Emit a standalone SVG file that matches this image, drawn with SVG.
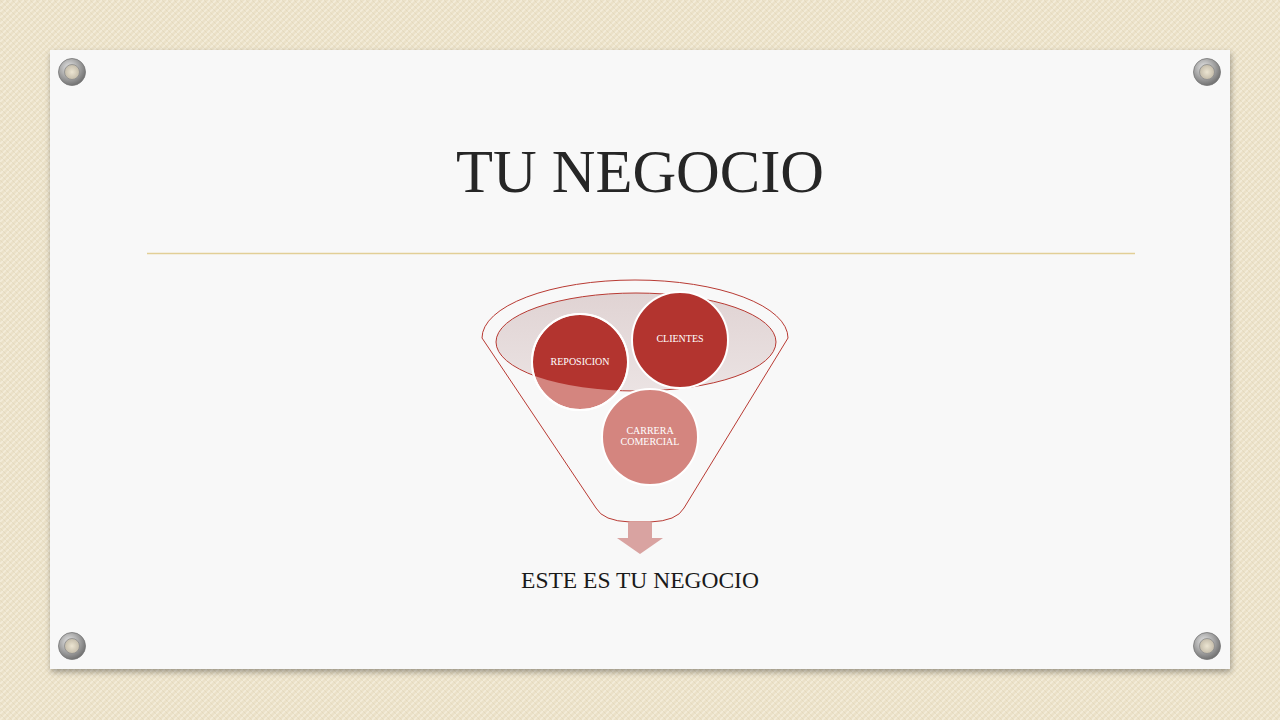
<svg xmlns="http://www.w3.org/2000/svg" width="1280" height="720" viewBox="0 0 1280 720">
  <defs>
    <pattern id="canvas" x="0" y="0" width="6" height="6" patternUnits="userSpaceOnUse">
      <rect width="6" height="6" fill="#ebe1c8"/>
      <path d="M0,6 L6,0 M-1.5,1.5 L1.5,-1.5 M4.5,7.5 L7.5,4.5" stroke="#f3ecd9" stroke-width="1.6"/>
      <path d="M0,0 L6,6" stroke="#dccfb0" stroke-width="0.6" stroke-opacity="0.7"/>
    </pattern>
    <radialGradient id="grom" cx="0.4" cy="0.35" r="0.7">
      <stop offset="0" stop-color="#e8e8e8"/>
      <stop offset="0.6" stop-color="#9c9c9c"/>
      <stop offset="1" stop-color="#6a6a6a"/>
    </radialGradient>
    <radialGradient id="hole" cx="0.5" cy="0.5" r="0.5">
      <stop offset="0" stop-color="#ece5d2"/>
      <stop offset="1" stop-color="#c4bcaa"/>
    </radialGradient>
    <linearGradient id="bowl" x1="0" y1="0" x2="0" y2="1">
      <stop offset="0" stop-color="#e0d3d3"/>
      <stop offset="1" stop-color="#ebe3e3"/>
    </linearGradient>
    <filter id="shadow" x="-5%" y="-5%" width="110%" height="110%">
      <feGaussianBlur in="SourceAlpha" stdDeviation="3"/>
      <feOffset dx="1" dy="3"/>
      <feComponentTransfer><feFuncA type="linear" slope="0.35"/></feComponentTransfer>
      <feMerge><feMergeNode/><feMergeNode in="SourceGraphic"/></feMerge>
    </filter>
    <clipPath id="innerClip">
      <ellipse cx="636" cy="342" rx="140" ry="49"/>
    </clipPath>
    <g id="grommet">
      <circle r="13.5" fill="url(#grom)" stroke="#767676" stroke-width="0.8"/>
      <circle r="7.5" fill="url(#hole)" stroke="#8c8c8c" stroke-width="0.8"/>
    </g>
  </defs>
  <style>
    .circTxt { font-family: "Liberation Serif", "DejaVu Serif", serif; font-size: 10px; fill: #ffffff; text-anchor: middle; }
    .circ { stroke: #ffffff; stroke-width: 2; }
    .dark { fill: #b3342f; }
    .light { fill: #d4857f; }
    .funnelLine { fill: none; stroke: #b83a33; stroke-width: 1; }
  </style>

  <rect width="1280" height="720" fill="url(#canvas)"/>
  <rect x="50" y="50" width="1180" height="619" fill="#f8f8f8" filter="url(#shadow)"/>

  <use href="#grommet" x="72" y="72"/>
  <use href="#grommet" x="1207" y="72"/>
  <use href="#grommet" x="72" y="646"/>
  <use href="#grommet" x="1207" y="646"/>

  <g id="title">
    <text x="640" y="192" font-family="Liberation Serif, DejaVu Serif, serif" font-size="60.5" fill="#262626" text-anchor="middle">TU NEGOCIO</text>
    <line x1="147" y1="253.5" x2="1135" y2="253.5" stroke="#e2cf96" stroke-width="1.5"/>
  </g>

  <g id="funnel">
    <path class="funnelLine" d="M482,338 A153,58 0 0 1 788,338 L684,508 Q677,521 650,522 L630,522 Q603,521 596,508 Z" fill="#f8f8f8"/>
    <ellipse cx="636" cy="342" rx="140" ry="49" fill="url(#bowl)" stroke="#b83a33" stroke-width="1"/>
  </g>

  <g id="node-reposicion">
    <circle class="circ light" cx="580" cy="362" r="48"/>
    <circle class="dark" cx="580" cy="362" r="47" clip-path="url(#innerClip)"/>
    <circle cx="580" cy="362" r="48" fill="none" stroke="#ffffff" stroke-width="2"/>
    <text class="circTxt" x="580" y="365">REPOSICION</text>
  </g>

  <g id="node-clientes">
    <circle class="circ dark" cx="680" cy="340" r="48"/>
    <text class="circTxt" x="680" y="342">CLIENTES</text>
  </g>

  <g id="node-carrera">
    <circle class="circ light" cx="650" cy="437" r="48"/>
    <text class="circTxt" x="650" y="434">CARRERA</text>
    <text class="circTxt" x="650" y="445">COMERCIAL</text>
  </g>

  <g id="connectors">
    <path d="M628,522 L652,522 L652,538 L663,538 L640,554 L617,538 L628,538 Z" fill="#d9a3a1"/>
  </g>

  <g id="node-result">
    <text x="640" y="588" font-family="Liberation Serif, DejaVu Serif, serif" font-size="23.5" fill="#1a1a1a" text-anchor="middle">ESTE ES TU NEGOCIO</text>
  </g>
</svg>
